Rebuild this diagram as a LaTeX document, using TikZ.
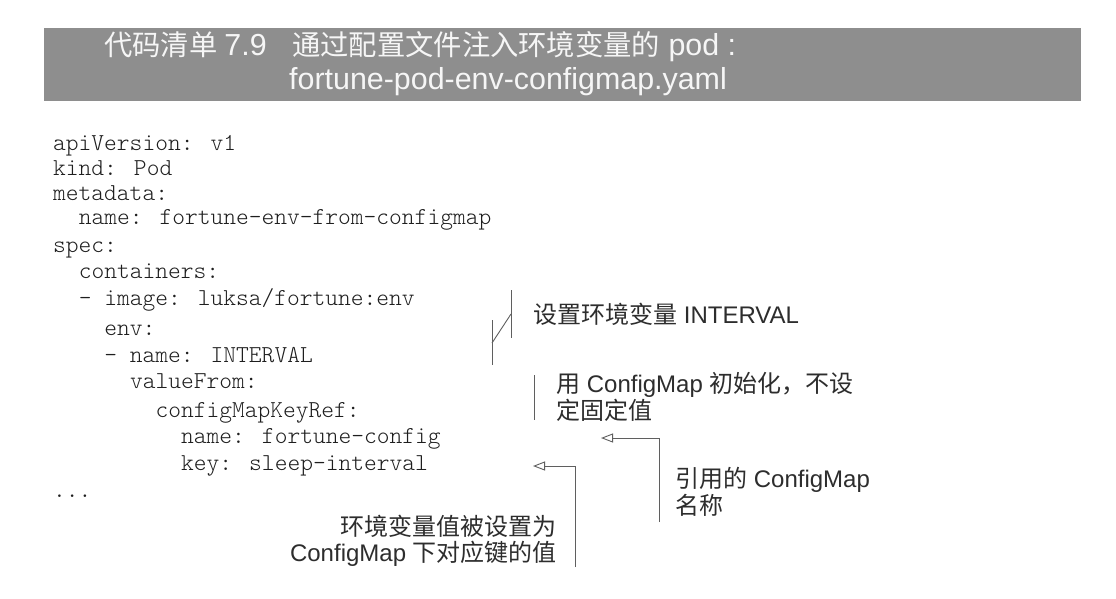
\documentclass[tikz,border=0pt]{standalone}
\usepackage{fontspec}
\setmainfont{Liberation Sans}
\newfontfamily\cjk{Noto Sans CJK SC}
\newfontfamily\codefont{lmmonolt10-regular}[Extension=.otf]
\usetikzlibrary{arrows.meta}
\definecolor{bandgray}{RGB}{142,142,142}
\definecolor{titlewhite}{RGB}{246,246,246}
\definecolor{codeink}{RGB}{30,30,30}
\definecolor{noteink}{RGB}{45,45,45}
\definecolor{lineink}{RGB}{95,95,95}
\newcommand\tcjk[1]{{\cjk\fontsize{28.3}{32}\selectfont #1}}
\newcommand\ncjk[1]{{\cjk #1}}
\begin{document}
\begin{tikzpicture}[x=1pt,y=-1pt,
  codeline/.style={anchor=base west, inner sep=0pt, text=codeink, font=\codefont\fontsize{24.3}{27}\selectfont},
  note/.style={anchor=base west, inner sep=0pt, text=noteink, font=\fontsize{24}{27}\selectfont},
  noteR/.style={note, anchor=base east},
  titletext/.style={anchor=base west, inner sep=0pt, text=titlewhite, font=\fontsize{30.4}{34}\selectfont},
  guide/.style={draw=lineink, line width=0.9pt},
  pointer/.style={guide, -{Triangle[open, length=12pt, width=9pt]}},
]
\fill[white] (0,0) rectangle (1116,598);
\useasboundingbox (0,0) rectangle (1116,598);

% header band
\fill[bandgray] (44,28) rectangle (1081,101);
\node[titletext] (t1) at (104,55) {\tcjk{代码清单}\hspace{7pt}7.9};
\node[titletext] (t2) at (292,55) {\tcjk{通过配置文件注入环境变量的} pod :};
\node[titletext] (t3) at (289,89) {fortune-pod-env-configmap.yaml};

% code
\node[codeline] (c1)  at (53,150)  {apiVersion: v1};
\node[codeline] (c2)  at (53,175)  {kind: Pod};
\node[codeline] (c3)  at (53,200)  {metadata:};
\node[codeline] (c4)  at (78.6,224) {name: fortune-env-from-configmap};
\node[codeline] (c5)  at (53,252)  {spec:};
\node[codeline] (c6)  at (78.6,278) {containers:};
\node[codeline] (c7)  at (78.6,305) {- image: luksa/fortune:env};
\node[codeline] (c8)  at (104.2,335) {env:};
\node[codeline] (c9)  at (104.2,362) {- name: INTERVAL};
\node[codeline] (c10) at (129.8,388) {valueFrom:};
\node[codeline] (c11) at (155.4,417) {configMapKeyRef:};
\node[codeline] (c12) at (181,443) {name: fortune-config};
\node[codeline] (c13) at (181,470) {key: sleep-interval};
\node[codeline] (c14) at (53,497)  {...};

% annotations
\node[note] (n1) at (533,323) {\ncjk{设置环境变量} INTERVAL};
\node[note] (n2a) at (556,392) {\ncjk{用} ConfigMap \ncjk{初始化，不设}};
\node[note] (n2b) at (556,419) {\ncjk{定固定值}};
\node[note] (n3a) at (675,487) {\ncjk{引用的} ConfigMap};
\node[note] (n3b) at (675,514) {\ncjk{名称}};
\node[noteR] (n4a) at (557,535) {\ncjk{环境变量值被设置为}};
\node[noteR] (n4b) at (557,561) {ConfigMap \ncjk{下对应键的值}};

% bracket 1
\coordinate (b1a) at (511,290);
\coordinate (b1b) at (511,338);
\coordinate (b1c) at (511,314);
\coordinate (b1d) at (492,343);
\coordinate (b1e) at (492,320);
\coordinate (b1f) at (492,365);
\draw[guide] (b1a) -- (b1b);
\draw[guide] (b1c) -- (b1d);
\draw[guide] (b1e) -- (b1f);

% bracket 2
\coordinate (b2a) at (534,375);
\coordinate (b2b) at (534,420);
\draw[guide] (b2a) -- (b2b);

% pointers
\coordinate (p1s) at (659,522);
\coordinate (p1t) at (601,438);
\draw[pointer] (p1s) |- (p1t);
\coordinate (p2s) at (575,567);
\coordinate (p2t) at (533,466);
\draw[pointer] (p2s) |- (p2t);
\end{tikzpicture}
\end{document}
